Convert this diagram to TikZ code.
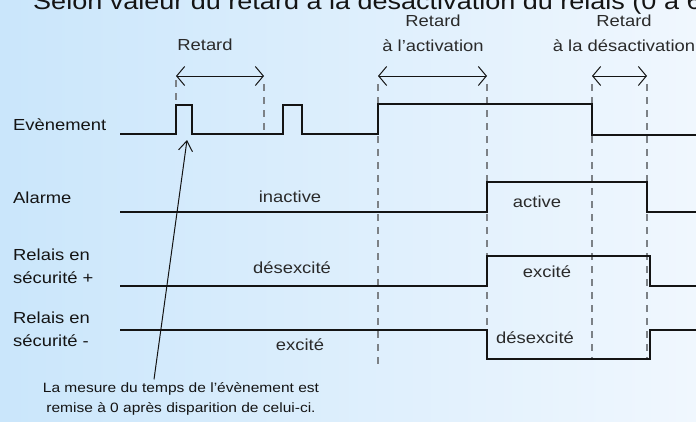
\documentclass[tikz,border=0pt]{standalone}
\usepackage{fontspec}
\setmainfont{Liberation Sans}[FakeStretch=1.15]
\usetikzlibrary{arrows.meta,calc,positioning}
\definecolor{Ink}{HTML}{141414}
\definecolor{Lead}{HTML}{2A2A2A}
\definecolor{SkyL}{RGB}{202,230,251}
\definecolor{SkyR}{RGB}{240,247,254}
\definecolor{Guide}{HTML}{7C8186}
\tikzset{
  signal/.style={line width=2.8pt, draw=Ink, line join=miter},
  guide/.style={draw=Guide, line width=1.1pt, dash pattern=on 7pt off 6pt},
  span/.style={{Straight Barb[length=8pt,width=19pt]}-{Straight Barb[length=8pt,width=19pt]},
    draw=Ink, line width=1pt},
  pointer/.style={-{Straight Barb[length=10pt,width=14pt]}, draw=Ink, line width=1pt},
  siglabel/.style={anchor=west, align=left, inner sep=0pt, text=Ink,
    font=\fontsize{16}{23}\selectfont},
  state/.style={inner sep=0pt, text=Lead, font=\fontsize{16}{25}\selectfont, align=center},
  note/.style={inner sep=0pt, text=Ink, font=\fontsize{13.5}{20}\selectfont, align=center},
  headline/.style={inner sep=0pt, anchor=base west, text=Ink, font=\fontsize{23.5}{26}\selectfont}
}

\begin{document}
\begin{tikzpicture}[x=1pt,y=-1pt]
  \shade[left color=SkyL,right color=SkyR] (0,0) rectangle (696,421);
  \clip (0,0) rectangle (696,421);
  \node[headline] (head) at (33,9) {Selon valeur du retard à la désactivation du relais (0 à 60 s)};

  % signal names
  \node[siglabel] (ev) at (13,125) {Evènement};
  \node[siglabel] (al) at (13,198) {Alarme};
  \node[siglabel] (rp) at (13,266) {Relais en\\sécurité +};
  \node[siglabel] (rm) at (13,329) {Relais en\\sécurité -};

  % delays
  \node[state] (d1) at (205,45) {Retard};
  \node[state] (d2) at (433,33) {Retard\\à l'activation};
  \node[state] (d3) at (624,33) {Retard\\à la désactivation};
  \coordinate (a1) at (176,76);
  \coordinate (b1) at (264,76);
  \coordinate (a2) at (378,76);
  \coordinate (b2) at (487,76);
  \coordinate (a3) at (592,76);
  \coordinate (b3) at (647,76);
  \draw[span] (a1) -- (b1);
  \draw[span] (a2) -- (b2);
  \draw[span] (a3) -- (b3);

  % time marks
  \draw[guide] (176,80) -- (176,104);
  \draw[guide] (264,84) -- (264,134);
  \draw[guide] (378,84) -- (378,368);
  \draw[guide] (487,84) -- (487,360);
  \draw[guide] (592,84) -- (592,360);
  \draw[guide] (647,84) -- (647,360);

  % chronograms
  \draw[signal] (120,134) -- (176,134) -- (176,105) -- (192,105) -- (192,134)
    -- (283,134) -- (283,105) -- (302,105) -- (302,134) -- (378,134)
    -- (378,104) -- (592,104) -- (592,135) -- (700,135);
  \draw[signal] (120,212) -- (487,212) -- (487,182) -- (647,182) -- (647,212) -- (700,212);
  \draw[signal] (120,286) -- (487,286) -- (487,256) -- (650,256) -- (650,286) -- (700,286);
  \draw[signal] (120,330) -- (487,330) -- (487,359) -- (650,359) -- (650,330) -- (700,330);

  % states
  \node[state] (s1) at (290,197) {inactive};
  \node[state] (s2) at (537,202) {active};
  \node[state] (s3) at (292,268) {désexcité};
  \node[state] (s4) at (547,272) {excité};
  \node[state] (s5) at (300,345) {excité};
  \node[state] (s6) at (535,338) {désexcité};

  % remark
  \node[note] (memo) at (181,399) {La mesure du temps de l'évènement est\\remise à 0 après disparition de celui-ci.};
  \coordinate (hit) at (187,140);
  \draw[pointer] (memo.north) ++(-27,-3) -- (hit);
\end{tikzpicture}
\end{document}
